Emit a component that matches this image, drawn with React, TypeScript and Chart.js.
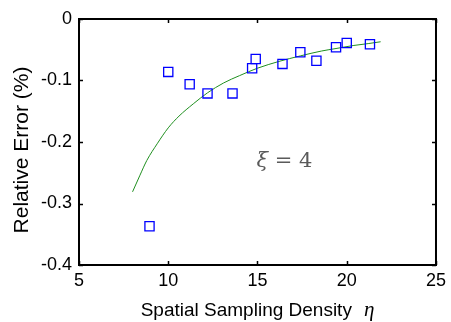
import React, { useEffect, useRef } from "react";
import { Chart, registerables } from "chart.js";

Chart.register(...registerables);

// Measured scatter points (Spatial Sampling Density η, Relative Error %)
const pointX = [8.95, 10.0, 11.2, 12.2, 13.6, 14.7, 14.9, 16.4, 17.4, 18.3, 19.4, 20.0, 21.3];
const pointY = [-0.337, -0.086, -0.106, -0.121, -0.121, -0.080, -0.065, -0.073, -0.054, -0.068, -0.046, -0.039, -0.041];

// Fitted curve
const curveX = [8.0, 8.4, 8.8, 9.4, 10.0, 10.6, 11.4, 12.2, 13.1, 14.0, 15.0, 16.2, 17.4, 18.6, 19.4, 20.4, 21.2, 21.9];
const curveY = [-0.281, -0.255, -0.230, -0.202, -0.177, -0.158, -0.138, -0.120, -0.104, -0.092, -0.080, -0.069, -0.060, -0.052, -0.048, -0.043, -0.040, -0.037];

const xTicks = [5, 10, 15, 20, 25];
const yTicks = [-0.4, -0.3, -0.2, -0.1, 0];

const xTitle = "Spatial Sampling Density";
const xTitleSymbol = "η";
const yTitle = "Relative Error (%)";
const annotationSymbol = "ξ";
const annotationRest = " = 4";
const annotationAt = { x: 14.94, y: -0.2407 };

const boxPlugin = {
  id: "matlabBox",
  afterDraw(chart: any) {
    const { ctx, chartArea } = chart;
    const { left, right, top, bottom } = chartArea;
    const xs = chart.scales.x;
    const ys = chart.scales.y;
    ctx.save();
    // box
    ctx.strokeStyle = "#000";
    ctx.lineWidth = 2;
    ctx.strokeRect(left, top, right - left, bottom - top);
    // inward ticks
    ctx.lineWidth = 1.5;
    const tl = 4;
    ctx.beginPath();
    xTicks.forEach((v) => {
      const px = Math.round(xs.getPixelForValue(v)) + 0.5;
      ctx.moveTo(px, bottom);
      ctx.lineTo(px, bottom - tl);
      ctx.moveTo(px, top);
      ctx.lineTo(px, top + tl);
    });
    yTicks.forEach((v) => {
      const py = Math.round(ys.getPixelForValue(v)) + 0.5;
      ctx.moveTo(left, py);
      ctx.lineTo(left + tl, py);
      ctx.moveTo(right, py);
      ctx.lineTo(right - tl, py);
    });
    ctx.stroke();

    // x title with italic symbol
    const sansFont = "19px 'Liberation Sans', Arial, sans-serif";
    const serifFont = "italic 21px 'Liberation Serif', 'DejaVu Serif', serif";
    ctx.font = sansFont;
    const w1 = ctx.measureText(xTitle).width;
    ctx.font = serifFont;
    const w2 = ctx.measureText(xTitleSymbol).width;
    const gap = 12;
    const total = w1 + gap + w2;
    const cx = (left + right) / 2;
    const baseY = bottom + 51;
    ctx.fillStyle = "#000";
    ctx.textBaseline = "alphabetic";
    ctx.textAlign = "left";
    ctx.font = sansFont;
    ctx.fillText(xTitle, cx - total / 2, baseY);
    ctx.font = serifFont;
    ctx.fillText(xTitleSymbol, cx - total / 2 + w1 + gap, baseY);

    // y title
    ctx.save();
    ctx.translate(left - 51, (top + bottom) / 2 + 8);
    ctx.rotate(-Math.PI / 2);
    ctx.textAlign = "center";
    ctx.textBaseline = "alphabetic";
    ctx.font = "21px 'Liberation Sans', Arial, sans-serif";
    ctx.fillStyle = "#000";
    ctx.fillText(yTitle, 0, 0);
    ctx.restore();

    // annotation
    const ax = xs.getPixelForValue(annotationAt.x);
    const ay = ys.getPixelForValue(annotationAt.y);
    ctx.fillStyle = "#5a5a5a";
    ctx.textAlign = "left";
    ctx.font = "italic 21px 'DejaVu Serif', serif";
    ctx.fillText(annotationSymbol, ax, ay);
    const ws = ctx.measureText(annotationSymbol).width;
    ctx.font = "21px 'DejaVu Serif', serif";
    ctx.fillText(annotationRest, ax + ws, ay);
    ctx.restore();
  },
};

export default function App() {
  const ref = useRef<HTMLCanvasElement>(null);
  useEffect(() => {
    document.body.style.margin = "0";
    const chart = new Chart(ref.current!, {
      type: "scatter",
      data: {
        datasets: [
          {
            label: "fit",
            type: "line",
            data: curveX.map((x, i) => ({ x, y: curveY[i] })),
            borderColor: "#1f8f1f",
            borderWidth: 1,
            pointRadius: 0,
            cubicInterpolationMode: "monotone",
            fill: false,
            order: 2,
          } as any,
          {
            label: "data",
            data: pointX.map((x, i) => ({ x, y: pointY[i] })),
            pointStyle: "rect",
            pointRadius: 6.5,
            pointBorderColor: "#0000ff",
            pointBackgroundColor: "rgba(0,0,0,0)",
            pointBorderWidth: 1.3,
            showLine: false,
            order: 1,
          } as any,
        ],
      },
      options: {
        animation: false,
        responsive: true,
        maintainAspectRatio: false,
        layout: { padding: { left: 0, right: 12, top: 19, bottom: 0 } },
        plugins: { legend: { display: false }, tooltip: { enabled: false } },
        scales: {
          x: {
            type: "linear",
            min: 5,
            max: 25,
            afterBuildTicks: (s: any) => {
              s.ticks = xTicks.map((v) => ({ value: v }));
            },
            afterFit: (s: any) => {
              s.height = 57;
            },
            grid: { display: false, drawTicks: false },
            border: { display: false },
            ticks: {
              padding: 5,
              color: "#000",
              font: { family: "'Liberation Sans', Arial, sans-serif", size: 18 },
              maxRotation: 0,
            },
          },
          y: {
            type: "linear",
            min: -0.4,
            max: 0,
            afterBuildTicks: (s: any) => {
              s.ticks = yTicks.map((v) => ({ value: v }));
            },
            afterFit: (s: any) => {
              s.width = 79;
            },
            grid: { display: false, drawTicks: false },
            border: { display: false },
            ticks: {
              padding: 7,
              color: "#000",
              font: { family: "'Liberation Sans', Arial, sans-serif", size: 18 },
              callback: (v: any) => (Math.abs(v) < 1e-9 ? "0" : Number(v).toFixed(1)),
            },
          },
        },
      },
      plugins: [boxPlugin],
    });
    return () => chart.destroy();
  }, []);
  return (
    <div style={{ position: "fixed", left: 0, top: 0, width: 451, height: 322, background: "#fff" }}>
      <canvas ref={ref} />
    </div>
  );
}
